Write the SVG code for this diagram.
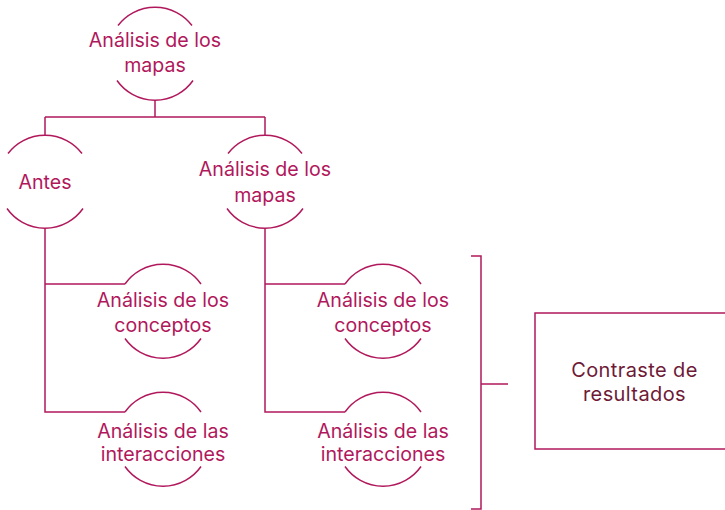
<svg xmlns="http://www.w3.org/2000/svg" width="725" height="510" viewBox="0 0 725 510">
<style>
.ln{fill:none;stroke:#b1185c;stroke-width:1.5}
.t{font-family:Inter,"Liberation Sans",sans-serif;font-size:19.6px;fill:#b1185c;text-anchor:middle}
.b{font-family:Inter,"Liberation Sans",sans-serif;font-size:20px;letter-spacing:0.4px;fill:#6e1a37;text-anchor:middle}
</style>
<rect width="725" height="510" fill="#ffffff"/>
<g id="connectors" class="ln">
<path d="M155 100V117M45 117H265M45 117V135M265 117V135"/>
<path d="M45 228V412H125M45 284H125"/>
<path d="M265 228V412H345M265 284H345"/>
<path d="M471 256H481V509H471M481 384H508"/>
</g>
<g id="n1">
<path class="ln" d="M118 25.5A46.5 46.5 0 0 1 192 25.5M117 80.5A46.5 46.5 0 0 0 193 80.5"/>
<text class="t" x="155" y="47">Análisis de los</text>
<text class="t" x="155" y="72">mapas</text>
</g>
<g id="n2">
<path class="ln" d="M8 153.5A46.5 46.5 0 0 1 82 153.5M7 208.5A46.5 46.5 0 0 0 83 208.5"/>
<text class="t" x="45" y="189">Antes</text>
</g>
<g id="n3">
<path class="ln" d="M228 153.5A46.5 46.5 0 0 1 302 153.5M227 208.5A46.5 46.5 0 0 0 303 208.5"/>
<text class="t" x="265" y="176">Análisis de los</text>
<text class="t" x="265" y="201.5">mapas</text>
</g>
<g id="n4">
<path class="ln" d="M125 284A46.5 46.5 0 0 1 201 284M125 338.5A46.5 46.5 0 0 0 201 338.5"/>
<text class="t" x="163" y="307">Análisis de los</text>
<text class="t" x="163" y="332">conceptos</text>
</g>
<g id="n5">
<path class="ln" d="M125 412A46.5 46.5 0 0 1 201 412M125 466.5A46.5 46.5 0 0 0 201 466.5"/>
<text class="t" x="163" y="437.5">Análisis de las</text>
<text class="t" x="163" y="461">interacciones</text>
</g>
<g id="n6">
<path class="ln" d="M345 284A46.5 46.5 0 0 1 421 284M345 338.5A46.5 46.5 0 0 0 421 338.5"/>
<text class="t" x="383" y="307">Análisis de los</text>
<text class="t" x="383" y="332">conceptos</text>
</g>
<g id="n7">
<path class="ln" d="M345 412A46.5 46.5 0 0 1 421 412M345 466.5A46.5 46.5 0 0 0 421 466.5"/>
<text class="t" x="383" y="437.5">Análisis de las</text>
<text class="t" x="383" y="461">interacciones</text>
</g>
<g id="n8">
<rect class="ln" x="535" y="313" width="200" height="136"/>
<text class="b" x="634.5" y="377">Contraste de</text>
<text class="b" x="634.5" y="400.5">resultados</text>
</g>
</svg>
